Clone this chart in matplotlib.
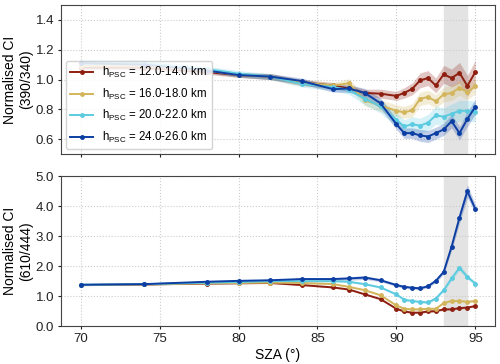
import matplotlib

matplotlib.use("Agg")
import matplotlib.pyplot as plt
import numpy as np

plt.rcParams["font.family"] = ["Liberation Sans", "DejaVu Sans"]
plt.rcParams["mathtext.fontset"] = "custom"
plt.rcParams["mathtext.rm"] = "Liberation Sans"

# SZA grid shared by all curves
sza = [70, 74, 78, 80, 82, 84, 86, 87, 88, 89, 90, 90.5, 91, 91.5, 92, 92.5, 93, 93.5, 94, 94.5, 95]

labels = ["12.0-14.0", "16.0-18.0", "20.0-22.0", "24.0-26.0"]

# top panel: CI 390/340
ci390_12 = [1.08, 1.08, 1.05, 1.03, 1.02, 0.98, 0.96, 0.94, 0.91, 0.905, 0.89, 0.91, 0.937, 0.994, 1.01, 0.96, 1.035, 1.01, 1.045, 0.957, 1.05]
ci390_16 = [1.09, 1.09, 1.06, 1.03, 1.02, 0.98, 0.96, 0.975, 0.86, 0.825, 0.79, 0.78, 0.793, 0.87, 0.883, 0.854, 0.90, 0.91, 0.944, 0.915, 0.955]
ci390_20 = [1.11, 1.11, 1.07, 1.04, 1.02, 0.97, 0.95, 0.93, 0.87, 0.82, 0.73, 0.685, 0.70, 0.69, 0.71, 0.76, 0.75, 0.77, 0.79, 0.79, 0.785]
ci390_24 = [1.11, 1.10, 1.06, 1.03, 1.02, 0.99, 0.935, 0.94, 0.91, 0.84, 0.70, 0.64, 0.64, 0.625, 0.617, 0.64, 0.665, 0.72, 0.64, 0.735, 0.817]

err390_12 = [0.015, 0.015, 0.015, 0.015, 0.02, 0.02, 0.02, 0.02, 0.025, 0.03, 0.03, 0.035, 0.04, 0.05, 0.05, 0.05, 0.06, 0.06, 0.07, 0.07, 0.08]
err390_16 = [0.015, 0.015, 0.015, 0.015, 0.02, 0.02, 0.02, 0.03, 0.035, 0.04, 0.04, 0.04, 0.045, 0.045, 0.045, 0.045, 0.05, 0.05, 0.05, 0.05, 0.05]
err390_20 = [0.02, 0.02, 0.02, 0.02, 0.02, 0.02, 0.025, 0.03, 0.04, 0.045, 0.045, 0.045, 0.05, 0.05, 0.055, 0.06, 0.06, 0.065, 0.07, 0.07, 0.07]
err390_24 = [0.015, 0.015, 0.015, 0.015, 0.02, 0.02, 0.02, 0.025, 0.03, 0.035, 0.035, 0.035, 0.035, 0.04, 0.04, 0.04, 0.04, 0.045, 0.045, 0.05, 0.05]

# bottom panel: CI 610/444
ci610_12 = [1.37, 1.39, 1.42, 1.43, 1.44, 1.37, 1.29, 1.22, 1.06, 0.90, 0.58, 0.49, 0.45, 0.45, 0.49, 0.50, 0.56, 0.56, 0.60, 0.62, 0.67]
ci610_16 = [1.37, 1.39, 1.43, 1.44, 1.45, 1.44, 1.40, 1.31, 1.20, 1.03, 0.69, 0.58, 0.56, 0.56, 0.58, 0.58, 0.77, 0.84, 0.84, 0.81, 0.84]
ci610_20 = [1.38, 1.40, 1.45, 1.47, 1.50, 1.50, 1.50, 1.48, 1.40, 1.29, 1.06, 0.88, 0.84, 0.81, 0.79, 0.92, 1.20, 1.59, 1.95, 1.64, 1.42]
ci610_24 = [1.38, 1.40, 1.48, 1.51, 1.53, 1.57, 1.57, 1.59, 1.62, 1.53, 1.37, 1.31, 1.28, 1.26, 1.33, 1.51, 1.81, 2.65, 3.62, 4.50, 3.91]

err610_12 = [0.02] * 10 + [0.03] * 11
err610_16 = [0.02] * 10 + [0.03] * 11
err610_20 = [0.03] * 10 + [0.04, 0.04, 0.04, 0.04, 0.04, 0.05, 0.06, 0.08, 0.10, 0.08, 0.07]
err610_24 = [0.03] * 6 + [0.05, 0.06, 0.06, 0.05, 0.05, 0.05, 0.05, 0.05, 0.05, 0.06, 0.08, 0.12, 0.18, 0.22, 0.15]

colors = ["#8e1f10", "#d3b55c", "#5ccbe0", "#0c3ea3"]

top_vals = [ci390_12, ci390_16, ci390_20, ci390_24]
top_errs = [err390_12, err390_16, err390_20, err390_24]
bot_vals = [ci610_12, ci610_16, ci610_20, ci610_24]
bot_errs = [err610_12, err610_16, err610_20, err610_24]

fig = plt.figure(figsize=(5.0, 3.64), dpi=100)
ax1 = fig.add_axes([0.122, 0.577, 0.868, 0.409])
ax2 = fig.add_axes([0.122, 0.104, 0.868, 0.412], sharex=ax1)

x = np.array(sza)
for ax, vals, errs in [(ax1, top_vals, top_errs), (ax2, bot_vals, bot_errs)]:
    ax.axvspan(93, 94.5, color="#e3e3e3", zorder=0)
    for v, e, col, lab in zip(vals, errs, colors, labels):
        v = np.array(v)
        e = np.array(e)
        ax.fill_between(x, v - e, v + e, color=col, alpha=0.25, linewidth=0, zorder=1)
        ax.plot(x, v, color=col, lw=1.4, marker="o", ms=2.5, zorder=2,
                label=r"h$_{\rm PSC}$ = " + lab + " km")
    ax.grid(True, color="#cccccc", linestyle=":", linewidth=0.8)
    ax.set_axisbelow(True)
    for spine in ax.spines.values():
        spine.set_color("#444444")
    ax.tick_params(labelsize=9.5, colors="#222222", length=2.5, pad=2.5)

ax1.set_xlim(68.75, 96.25)
ax1.set_ylim(0.5, 1.5)
ax1.set_yticks([0.6, 0.8, 1.0, 1.2, 1.4])
ax1.set_yticklabels(["0.6", "0.8", "1.0", "1.2", "1.4"])
ax1.tick_params(axis="x", labelbottom=False)
ax1.set_ylabel("Normalised CI\n(390/340)", fontsize=10, labelpad=2, linespacing=1.15)
ax1.legend(loc="lower left", fontsize=8.3, handlelength=2.0, labelspacing=0.55,
           framealpha=0.85, borderaxespad=0.4)

ax2.set_ylim(0, 5)
ax2.set_yticks([0, 1, 2, 3, 4, 5])
ax2.set_yticklabels(["0.0", "1.0", "2.0", "3.0", "4.0", "5.0"])
ax2.set_xticks([70, 75, 80, 85, 90, 95])
ax2.set_ylabel("Normalised CI\n(610/444)", fontsize=10, labelpad=2, linespacing=1.15)
ax2.set_xlabel("SZA (°)", fontsize=10, labelpad=2)

fig.savefig("out.png", dpi=100)
